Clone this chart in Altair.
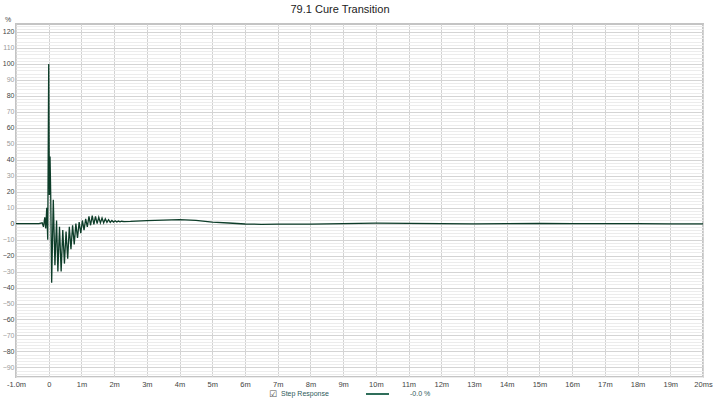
import altair as alt
import pandas as pd

# ---- data ----
times = [-1.0, -0.3, -0.2, -0.16, -0.12, -0.09, -0.06, -0.03, 0.0, 0.02, 0.04, 0.06,
         0.09, 0.14, 0.19, 0.24, 0.28, 0.33, 0.38, 0.43, 0.48, 0.53, 0.58, 0.63,
         0.68, 0.73, 0.78, 0.83, 0.88, 0.93, 0.98, 1.03, 1.08, 1.13, 1.18, 1.23,
         1.28, 1.33, 1.38, 1.43, 1.48, 1.53, 1.58, 1.63, 1.68, 1.73, 1.78, 1.83,
         1.88, 1.93, 1.98, 2.03, 2.08, 2.13, 2.18, 2.23, 2.3, 2.5, 3.0, 3.5, 4.0,
         4.5, 5.0, 5.5, 6.0, 6.5, 7.0, 8.0, 9.0, 10.0, 11.0, 12.0, 13.0, 14.0,
         15.0, 16.0, 17.0, 18.0, 19.0, 20.0]
values = [0.0, 0.0, 0.5, -2.0, 4.0, -3.0, 10.0, -10.0, 100.0, 18.0, 42.0, 20.0,
          -37.0, 15.0, -26.0, 2.0, -30.0, -2.0, -30.0, -4.0, -25.0, -5.0, -22.0, -2.0,
          -16.0, -1.0, -13.0, 0.0, -9.0, 1.0, -6.0, 2.0, -4.0, 3.0, -2.0, 4.5,
          -1.0, 5.0, -0.5, 4.5, 0.0, 4.0, 0.5, 3.5, 0.5, 3.0, 0.8, 2.5,
          0.8, 2.0, 1.0, 1.8, 1.0, 1.6, 1.1, 1.5, 1.3, 1.4, 1.9, 2.2, 2.5,
          2.0, 1.0, 0.4, -0.2, -0.4, -0.3, -0.3, 0.0, 0.3, 0.2, 0.0, -0.1, 0.0,
          0.1, 0.0, 0.0, 0.0, -0.1, -0.1]
x_ticks = list(range(-1, 21))
y_grid = list(range(-96, 126, 2))

title_text = "79.1 Cure Transition"
legend_name = "Step Response"
legend_value = "-0.0 %"

df = pd.DataFrame({"t": times, "v": values})
one = pd.DataFrame({"a": [0]})

FONT = "Liberation Sans"
W, H = 687, 353

x_axis = alt.Axis(
    values=x_ticks, grid=True, gridColor="#d2d2d2", gridWidth=1,
    ticks=False, domain=False, labelFontSize=7.5, labelColor="#444",
    labelFont=FONT, labelPadding=3, title=None, labelOverlap=False, labelFlush=False,
    labelExpr="datum.value == -1 ? '-1.0m' : datum.value == 0 ? '0' : datum.value == 20 ? '20ms' : datum.value + 'm'",
)
y_axis = alt.Axis(
    values=y_grid, grid=True,
    gridColor={"condition": {"test": "datum.value % 10 === 0", "value": "#d4d4d4"}, "value": "#ececec"},
    ticks=False, domain=False, labelFontSize=7, labelFont=FONT,
    labelColor={"condition": {"test": "datum.value % 20 === 0", "value": "#444444"}, "value": "#9a9a9a"},
    labelPadding=2, title=None, labelOverlap=False, labelFlush=False,
    labelExpr="(datum.value % 10 === 0 && datum.value >= -90 && datum.value <= 120) ? datum.label : ''",
)

line = alt.Chart(df).mark_line(color="#0d3d29", strokeWidth=1.3, clip=True).encode(
    x=alt.X("t:Q", scale=alt.Scale(domain=[-1, 20], nice=False, zero=False), axis=x_axis),
    y=alt.Y("v:Q", scale=alt.Scale(domain=[-96, 125], nice=False, zero=False), axis=y_axis),
    order="t:Q",
)

title = alt.Chart(one).mark_text(
    text=title_text, font=FONT, fontSize=11, color="#222", align="center", baseline="middle"
).encode(x=alt.value(324), y=alt.value(-14.5))

pct = alt.Chart(one).mark_text(
    text="%", font=FONT, fontSize=7, color="#444", align="center", baseline="middle"
).encode(x=alt.value(-8), y=alt.value(-4))

check = alt.Chart(one).mark_text(
    text="☑", font="DejaVu Sans", fontSize=9, color="#555", align="center", baseline="middle"
).encode(x=alt.value(257), y=alt.value(370))

leg_name = alt.Chart(one).mark_text(
    text=legend_name, font=FONT, fontSize=7, color="#2e5a5a", align="left", baseline="middle"
).encode(x=alt.value(265), y=alt.value(370))

leg_line = alt.Chart(one).mark_rule(color="#2f6e5a", strokeWidth=2).encode(
    x=alt.value(350), x2=alt.value(373), y=alt.value(370)
)

leg_val = alt.Chart(one).mark_text(
    text=legend_value, font=FONT, fontSize=7, color="#2e5a5a", align="left", baseline="middle"
).encode(x=alt.value(394), y=alt.value(370))

chart = alt.layer(line, title, pct, check, leg_name, leg_line, leg_val).properties(
    width=W, height=H,
    autosize=alt.AutoSizeParams(type="none"),
    padding={"left": 16, "top": 24, "right": 11, "bottom": 25},
    background="white",
).configure_view(stroke="#c4c4c4", strokeWidth=2)

chart.save("out.html", embed_options={"renderer": "svg", "actions": False})
